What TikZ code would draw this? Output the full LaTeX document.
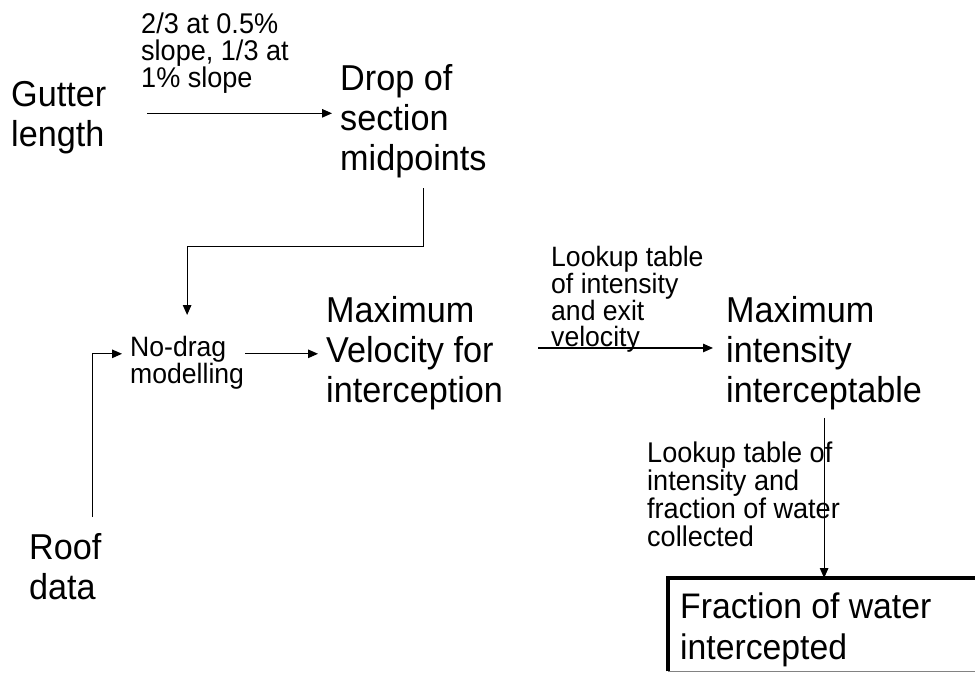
\documentclass[tikz,border=0pt]{standalone}
\usepackage{fontspec}
\setmainfont{Liberation Sans}[FakeStretch=0.95]
\usetikzlibrary{positioning, calc, arrows.meta}
\definecolor{flowBlack}{RGB}{0, 0, 0}
\definecolor{edgeGray}{RGB}{130, 130, 130}
\tikzset{
    base/.style={
        anchor=north west,
        inner sep=0pt,
        align=left,
        text=flowBlack
    },
    term/.style={
        base,
        font=\fontsize{36}{40}\selectfont
    },
    note/.style={
        base,
        font=\fontsize{28.5}{27}\selectfont
    },
    flow/.style={
        -{Triangle[length=10pt, width=8.5pt]},
        line width=1.2pt,
        color=flowBlack
    },
    boxedge/.style={
        line width=4pt,
        color=flowBlack
    }
}

\begin{document}
\begin{tikzpicture}[x=1pt, y=-1pt, line cap=butt]
    \useasboundingbox (0,0) rectangle (975,673);

    % Inputs
    \node[term] (gutter) at (11,80.8) {Gutter\\length};
    \node[term] (roof) at (29,533.4) {Roof\\data};

    % Steps
    \node[term] (drop) at (340,64) {Drop of\\section\\midpoints};
    \node[note, font=\fontsize{28}{23.5}\selectfont] (nodrag) at (130,336) {No-drag\\modelling};
    \node[term] (maxvel) at (326,296) {Maximum\\Velocity for\\interception};
    \node[term] (maxint) at (726,296) {Maximum\\intensity\\interceptable};

    % Result box
    \node[anchor=north west, inner sep=0pt, minimum width=320pt, minimum height=93pt] (fracbox) at (668,578) {};
    \draw[boxedge] (fracbox.south west) -- (fracbox.north west) -- (fracbox.north east);
    \draw[edgeGray, thin] (fracbox.south west) -- (fracbox.south east);
    \node[term, font=\fontsize{35.5}{41}\selectfont] (frac) at (680,592.5) {Fraction of water\\intercepted};

    % Labels on the arrows
    \node[note] (slope) at (141,12.5) {2/3 at 0.5\%\\slope, 1/3 at\\1\% slope};
    \node[note, font=\fontsize{28}{25.5}\selectfont] (lookexit) at (551,246) {Lookup table\\of intensity\\and exit\\velocity};
    \node[note, font=\fontsize{28.5}{28}\selectfont] (lookfrac) at (647,441.5) {Lookup table of\\intensity and\\fraction of water\\collected};

    % Arrows
    \draw[flow, shorten <=41pt, shorten >=8pt] ([yshift=4pt]gutter.east) -- ([yshift=4pt]gutter.east -| drop.west);
    \draw[flow, shorten >=21pt] ([xshift=10pt, yshift=-10.4pt]drop.south) -- ++(0,58) -| (nodrag.north);
    \draw[flow, shorten >=8pt] ([xshift=27pt, yshift=16.4pt]roof.north) |- ([yshift=9pt]nodrag.west);
    \draw[flow, shorten <=1pt, shorten >=8pt] ([yshift=9pt]nodrag.east) -- ([yshift=9pt]nodrag.east -| maxvel.west);
    \draw[flow, shorten <=35pt, shorten >=13pt] ([yshift=5pt]maxvel.east) -- ([yshift=5pt]maxvel.east -| maxint.west);
    \draw[flow, shorten <=8pt] (maxint.south) -- (maxint.south |- fracbox.north);
\end{tikzpicture}
\end{document}
